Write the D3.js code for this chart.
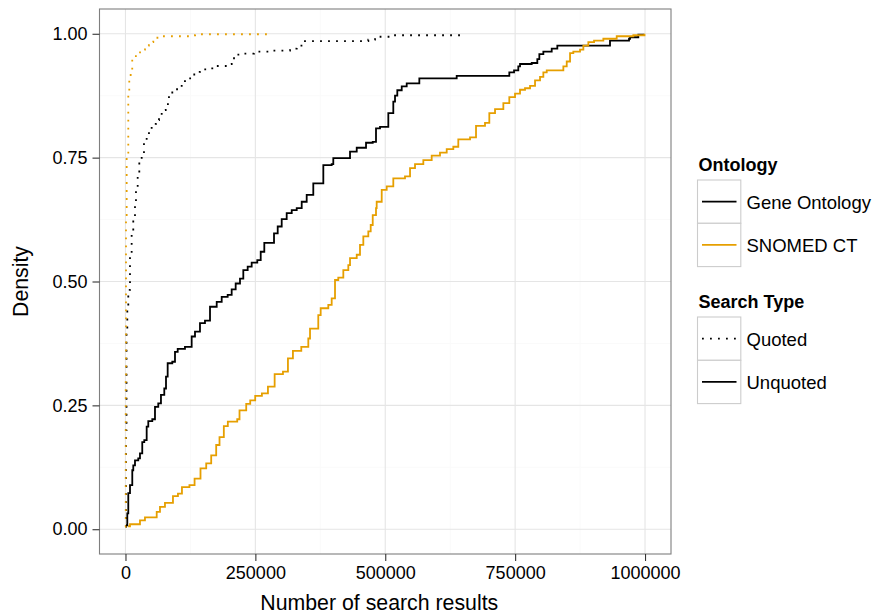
<!DOCTYPE html>
<html>
<head>
<meta charset="utf-8">
<script src="https://cdn.jsdelivr.net/npm/d3@7"></script>
<style>
  body { margin: 0; background: #fff; }
  svg { font-family: "Liberation Sans", Arial, sans-serif; }
</style>
</head>
<body>
<svg width="872" height="616"></svg>
<script>
// ECDF step points: [number of search results, cumulative proportion]
var goUnquoted = [
  [1000, 0.008], [3500, 0.032], [5400, 0.073], [8700, 0.089], [13100, 0.119], [15000, 0.129],
  [18300, 0.139], [24600, 0.143], [27900, 0.153], [32300, 0.176], [36200, 0.18], [40800, 0.207],
  [43900, 0.218], [51600, 0.222], [56800, 0.247], [63100, 0.254], [68300, 0.271], [74700, 0.284],
  [78000, 0.308], [81200, 0.335], [90100, 0.338], [95300, 0.358], [100500, 0.364], [114500, 0.368],
  [127400, 0.389], [133800, 0.399], [143400, 0.416], [153000, 0.421], [162700, 0.449], [175600, 0.459],
  [185200, 0.469], [196700, 0.473], [204400, 0.484], [212100, 0.496], [220400, 0.506], [226800, 0.523],
  [235200, 0.53], [242900, 0.538], [253700, 0.543], [260300, 0.56], [267200, 0.578], [285900, 0.597],
  [293000, 0.611], [300700, 0.626], [310300, 0.638], [320000, 0.644], [329600, 0.648], [339200, 0.661],
  [348800, 0.675], [361500, 0.698], [380800, 0.735], [396900, 0.737], [400000, 0.749], [432200, 0.762],
  [445100, 0.77], [463000, 0.78], [475900, 0.782], [482200, 0.809], [489900, 0.812], [505900, 0.84],
  [515500, 0.863], [518800, 0.875], [523200, 0.886], [531700, 0.894], [541300, 0.9], [565600, 0.91],
  [637500, 0.915], [738800, 0.922], [747900, 0.926], [756100, 0.934], [759400, 0.939], [781900, 0.941],
  [792700, 0.949], [796600, 0.959], [804300, 0.964], [820400, 0.97], [831200, 0.976], [932600, 0.986],
  [969200, 0.99], [971200, 0.993], [987100, 0.998], [996800, 1.0]
];
var snomedUnquoted = [
  [5000, 0.006], [8700, 0.01], [27900, 0.018], [37500, 0.024], [60100, 0.035], [66400, 0.045],
  [76000, 0.053], [91400, 0.067], [101000, 0.072], [108700, 0.085], [123100, 0.089], [133000, 0.102],
  [144400, 0.123], [155400, 0.133], [165000, 0.149], [174600, 0.17], [181000, 0.186], [189300, 0.208],
  [197000, 0.217], [215100, 0.222], [219500, 0.24], [232400, 0.253], [240100, 0.26], [249700, 0.269],
  [262600, 0.274], [274200, 0.288], [287100, 0.313], [303100, 0.318], [312700, 0.345], [322300, 0.36],
  [338400, 0.368], [351900, 0.385], [355200, 0.405], [371100, 0.432], [375700, 0.446], [390400, 0.453],
  [396900, 0.466], [403300, 0.503], [409600, 0.508], [419300, 0.523], [428900, 0.533], [432200, 0.547],
  [445100, 0.554], [451400, 0.574], [457800, 0.591], [467400, 0.601], [472000, 0.614], [475900, 0.634],
  [482200, 0.648], [483500, 0.661], [493200, 0.685], [502800, 0.692], [515500, 0.708], [538000, 0.712],
  [547700, 0.729], [557300, 0.737], [573300, 0.745], [589400, 0.754], [605400, 0.76], [618300, 0.767],
  [631000, 0.772], [640600, 0.787], [663200, 0.791], [674700, 0.814], [692000, 0.82], [700300, 0.84],
  [711300, 0.848], [727300, 0.86], [738800, 0.872], [749800, 0.879], [759400, 0.887], [769000, 0.89],
  [778700, 0.895], [788300, 0.906], [797900, 0.913], [804300, 0.922], [810800, 0.926], [842800, 0.934],
  [849300, 0.944], [855700, 0.961], [862000, 0.964], [874900, 0.968], [881300, 0.976], [890900, 0.983],
  [901900, 0.986], [919800, 0.99], [945500, 0.995], [977500, 0.997], [999000, 1.0]
];
var goQuoted = [
  [300, 0.005], [1000, 0.2], [2000, 0.4], [3500, 0.442], [5400, 0.483], [8700, 0.557], [11900, 0.6],
  [15000, 0.631], [18300, 0.661], [20200, 0.685], [23500, 0.715], [26600, 0.742], [31200, 0.756],
  [35600, 0.782], [40800, 0.796], [45200, 0.807], [50400, 0.818], [58700, 0.826], [64500, 0.836],
  [69700, 0.846], [77400, 0.858], [83700, 0.879], [90100, 0.888], [103000, 0.89], [108200, 0.9],
  [114500, 0.91], [127400, 0.913], [132400, 0.923], [143400, 0.928], [156300, 0.93], [167100, 0.935],
  [194800, 0.939], [204400, 0.944], [208900, 0.958], [220400, 0.96], [247400, 0.964], [274900, 0.966],
  [316700, 0.97], [329600, 0.976], [345500, 0.985], [467400, 0.988], [480300, 0.994], [509200, 0.997],
  [642000, 1.0]
];
var snomedQuoted = [
  [100, 0.005], [500, 0.3], [1000, 0.628], [2300, 0.76], [5400, 0.88], [7300, 0.907], [10000, 0.924],
  [13000, 0.948], [20000, 0.959], [28000, 0.968], [37500, 0.976], [45000, 0.983], [53500, 0.992],
  [64500, 0.995], [124000, 0.997], [134000, 0.999], [274000, 1.0]
];

var xTicks = [0, 250000, 500000, 750000, 1000000];
var yTicks = [0, 0.25, 0.5, 0.75, 1];
var ontologies = ["Gene Ontology", "SNOMED CT"];
var searchTypes = ["Quoted", "Unquoted"];

var colors = { "Gene Ontology": "#000000", "SNOMED CT": "#E69F00" };
var dashes = { "Quoted": "1.8,6.2", "Unquoted": null };

var series = [
  { ontology: "Gene Ontology", type: "Quoted", values: goQuoted },
  { ontology: "SNOMED CT", type: "Quoted", values: snomedQuoted },
  { ontology: "Gene Ontology", type: "Unquoted", values: goUnquoted },
  { ontology: "SNOMED CT", type: "Unquoted", values: snomedUnquoted }
];

var svg = d3.select("svg");
var margin = { top: 9, right: 201, bottom: 62, left: 99.5 };
var width = +svg.attr("width") - margin.left - margin.right;
var height = +svg.attr("height") - margin.top - margin.bottom;
var g = svg.append("g").attr("transform", "translate(" + margin.left + "," + margin.top + ")");

var xpad = 1000000 * 0.05, ypad = 0.05;
var x = d3.scaleLinear().domain([-xpad, 1000000 + xpad]).range([0, width]);
var y = d3.scaleLinear().domain([-ypad, 1 + ypad]).range([height, 0]);

// minor grid
var xMinor = [125000, 375000, 625000, 875000];
var yMinor = [0.125, 0.375, 0.625, 0.875];
g.selectAll(".xminor").data(xMinor).enter().append("line")
  .attr("x1", x).attr("x2", x).attr("y1", 0).attr("y2", height)
  .attr("stroke", "#FAFAFA").attr("stroke-width", 1);
g.selectAll(".yminor").data(yMinor).enter().append("line")
  .attr("y1", y).attr("y2", y).attr("x1", 0).attr("x2", width)
  .attr("stroke", "#FAFAFA").attr("stroke-width", 1);
// major grid
g.selectAll(".xmajor").data(xTicks).enter().append("line")
  .attr("x1", x).attr("x2", x).attr("y1", 0).attr("y2", height)
  .attr("stroke", "#E5E5E5").attr("stroke-width", 1.1);
g.selectAll(".ymajor").data(yTicks).enter().append("line")
  .attr("y1", y).attr("y2", y).attr("x1", 0).attr("x2", width)
  .attr("stroke", "#E5E5E5").attr("stroke-width", 1.1);

var line = d3.line()
  .x(function(d) { return x(d[0]); })
  .y(function(d) { return y(d[1]); })
  .curve(d3.curveStepAfter);

g.selectAll(".ecdf").data(series).enter().append("path")
  .attr("d", function(d) { return line(d.values); })
  .attr("fill", "none")
  .attr("stroke", function(d) { return colors[d.ontology]; })
  .attr("stroke-width", 1.8)
  .attr("stroke-dasharray", function(d) { return dashes[d.type]; });

// panel border
g.append("rect").attr("width", width).attr("height", height)
  .attr("fill", "none").attr("stroke", "#7F7F7F").attr("stroke-width", 1.1);

// axes
var xAxis = g.append("g").attr("transform", "translate(0," + height + ")")
  .call(d3.axisBottom(x).tickValues(xTicks).tickFormat(d3.format("d")).tickSize(7).tickPadding(5));
var yAxis = g.append("g")
  .call(d3.axisLeft(y).tickValues(yTicks).tickFormat(d3.format(".2f")).tickSize(7).tickPadding(5));
[xAxis, yAxis].forEach(function(a) {
  a.select(".domain").remove();
  a.selectAll(".tick line").attr("stroke", "#333").attr("stroke-width", 1.1);
  a.selectAll(".tick text").attr("fill", "#000").attr("font-size", 18)
    .attr("font-family", "Liberation Sans, Arial, sans-serif");
});

svg.append("text")
  .attr("x", margin.left + width / 2 - 6).attr("y", 610)
  .attr("text-anchor", "middle").attr("font-size", 21.3)
  .text("Number of search results");
svg.append("text")
  .attr("transform", "translate(28," + (margin.top + height / 2) + ") rotate(-90)")
  .attr("text-anchor", "middle").attr("font-size", 21.3)
  .text("Density");

// legends
function legend(top, title, keys, styleFn) {
  var lg = svg.append("g").attr("transform", "translate(697.5," + top + ")");
  lg.append("text").attr("x", 1).attr("y", 0).attr("font-size", 18)
    .attr("font-weight", "bold").text(title);
  var item = lg.selectAll(".item").data(keys).enter().append("g")
    .attr("transform", function(d, i) { return "translate(0," + (9 + i * 43.3) + ")"; });
  item.append("rect").attr("width", 43.3).attr("height", 43.3)
    .attr("fill", "#fff").attr("stroke", "#CCCCCC").attr("stroke-width", 1.1);
  item.append("line").attr("x1", 4.5).attr("x2", 39).attr("y1", 21.6).attr("y2", 21.6)
    .each(function(d) { styleFn(d3.select(this), d); });
  item.append("text").attr("x", 49).attr("y", 21.6).attr("dy", "0.4em")
    .attr("font-size", 18.5).text(function(d) { return d; });
}
legend(171, "Ontology", ontologies, function(sel, d) {
  sel.attr("stroke", colors[d]).attr("stroke-width", 1.8);
});
legend(308, "Search Type", searchTypes, function(sel, d) {
  sel.attr("stroke", "#000").attr("stroke-width", 1.8).attr("stroke-dasharray", dashes[d]);
});
</script>
</body>
</html>
